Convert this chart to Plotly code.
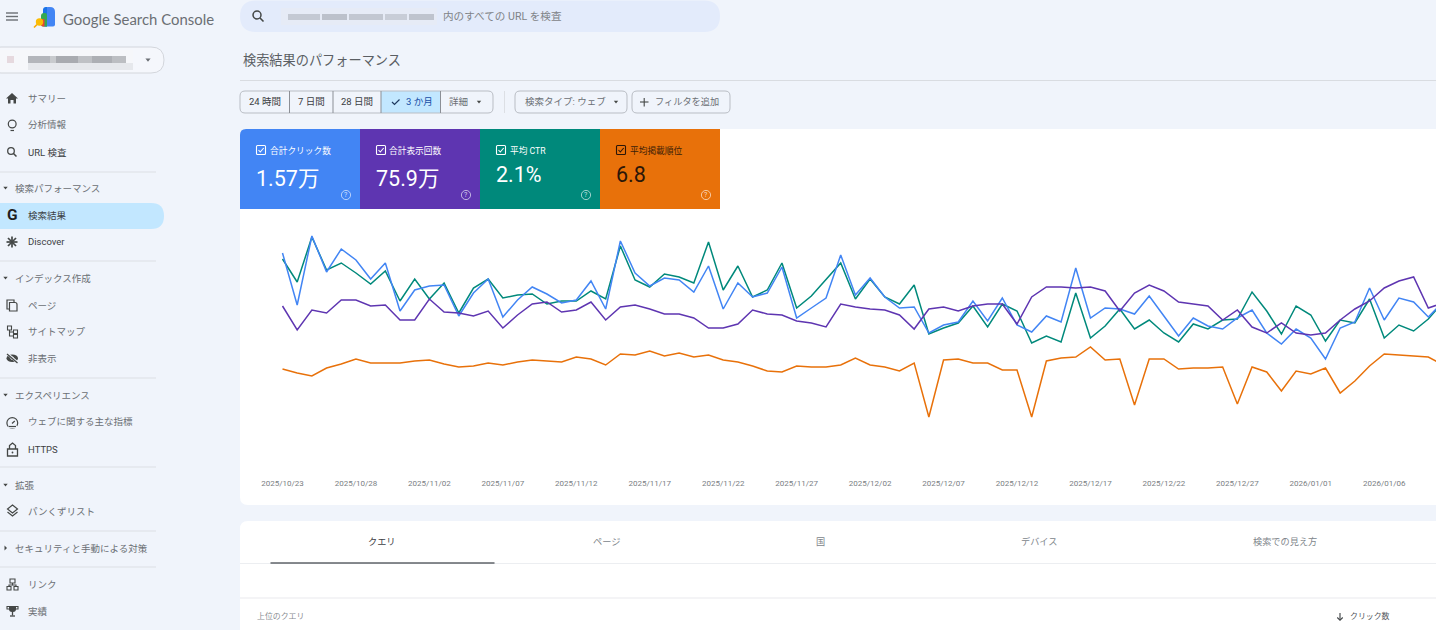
#! /usr/bin/python3
'''
Search Console performance page, drawn as one Plotly figure.
'''
import pandas as pd
import plotly.graph_objects as go

W = 1436
H = 630

# Series values: relative height of each daily point, the real axes are hidden in the page
clicks = [217, 165, 234, 198, 221, 210, 191, 207, 159, 180, 184, 185, 154, 177, 191, 153, 170, 183, 176, 167,
          170, 189, 161, 229, 197, 184, 192, 190, 178, 204, 161, 187, 173, 177, 203, 152, 162, 172, 215, 175,
          192, 173, 162, 163, 137, 145, 148, 169, 149, 172, 145, 138, 154, 148, 202, 152, 162, 161, 156, 174,
          154, 134, 152, 144, 141, 152, 160, 137, 126, 141, 132, 111, 142, 148, 182, 150, 172, 168, 153, 168]
impressions = [164, 140, 160, 157, 170, 170, 164, 165, 150, 150, 171, 158, 157, 154, 159, 142, 155, 166, 168, 158,
               160, 168, 150, 163, 165, 161, 156, 156, 152, 142, 142, 146, 160, 156, 155, 149, 147, 143, 166, 163,
               161, 160, 155, 141, 161, 163, 159, 164, 166, 166, 146, 173, 183, 183, 182, 183, 179, 159, 177, 185,
               179, 168, 166, 164, 150, 160, 143, 137, 147, 137, 135, 137, 150, 161, 169, 182, 189, 193, 162, 167]
ctr = [211, 188, 233, 200, 207, 197, 186, 199, 169, 191, 171, 187, 157, 182, 191, 172, 175, 176, 166, 169,
       169, 179, 171, 224, 190, 183, 196, 193, 187, 228, 180, 204, 173, 180, 207, 162, 174, 191, 207, 171,
       191, 173, 166, 185, 136, 142, 147, 164, 143, 166, 159, 127, 134, 128, 177, 132, 144, 161, 141, 150,
       137, 128, 146, 141, 150, 151, 178, 159, 136, 164, 155, 129, 150, 147, 171, 132, 145, 139, 151, 168]
position = [101, 97, 94, 102, 106, 111, 107, 107, 107, 109, 110, 106, 103, 104, 107, 105, 108, 110, 109, 108,
            113, 111, 105, 116, 115, 119, 114, 117, 113, 115, 110, 108, 104, 99, 98, 104, 103, 103, 105, 112,
            105, 103, 99, 107, 53, 110, 111, 107, 107, 100, 100, 53, 109, 112, 113, 123, 110, 111, 65, 111,
            111, 101, 102, 102, 103, 66, 103, 98, 79, 99, 96, 102, 77, 89, 104, 116, 115, 114, 113, 105]

dates = pd.date_range('2025-10-23', periods=80)
tick_dates = dates[:76:5]
tick_labels = [d.strftime('%Y/%m/%d') for d in tick_dates]

metric_names = ['合計クリック数', '合計表示回数', '平均 CTR', '平均掲載順位']
metric_values = ['1.57万', '75.9万', '2.1%', '6.8']
metric_colors = ['#4285f4', '#5e35b1', '#00897b', '#e8710a']
tab_names = ['クエリ', 'ページ', '国', 'デバイス', '検索での見え方']
sections = ['検索パフォーマンス', 'インデックス作成', 'エクスペリエンス', '拡張', 'セキュリティと手動による対策']
nav_items = ['サマリー', '分析情報', 'URL 検査', '検索結果', 'Discover', 'ページ', 'サイトマップ', '非表示',
             'ウェブに関する主な指標', 'HTTPS', 'パンくずリスト', 'リンク', '実績']

FONT = 'Roboto, "Noto Sans CJK JP", sans-serif'
BG = '#f0f4fb'
TEXT = '#6b6f74'
DARK = '#3c4043'
ICON = '#444746'
BORDER = '#b9bdc4'
LIGHT_LINE = '#dcdfe4'

shapes = []
notes = []


def X(x):
    return x / W


def Y(y):
    return 1 - y / H


def addPath(d, fill='rgba(0,0,0,0)', color='rgba(0,0,0,0)', width=0):
    shapes.append(dict(type='path', path=d, xref='paper', yref='paper', fillcolor=fill,
                       line=dict(color=color, width=width), layer='below'))


def rrect(x0, y0, x1, y1, r=(0, 0, 0, 0), fill='rgba(0,0,0,0)', color='rgba(0,0,0,0)', width=0):
    # r is top left, top right, bottom right, bottom left
    tl, tr, br, bl = r
    d = (f'M {X(x0 + tl)} {Y(y0)} L {X(x1 - tr)} {Y(y0)} Q {X(x1)} {Y(y0)} {X(x1)} {Y(y0 + tr)} '
         f'L {X(x1)} {Y(y1 - br)} Q {X(x1)} {Y(y1)} {X(x1 - br)} {Y(y1)} '
         f'L {X(x0 + bl)} {Y(y1)} Q {X(x0)} {Y(y1)} {X(x0)} {Y(y1 - bl)} '
         f'L {X(x0)} {Y(y0 + tl)} Q {X(x0)} {Y(y0)} {X(x0 + tl)} {Y(y0)} Z')
    addPath(d, fill, color, width)


def poly(points, fill='rgba(0,0,0,0)', color='rgba(0,0,0,0)', width=0, close=True):
    d = 'M ' + ' L '.join(f'{X(a)} {Y(b)}' for a, b in points)
    addPath(d + (' Z' if close else ''), fill, color, width)


def seg(x0, y0, x1, y1, color=ICON, width=1.3):
    poly([(x0, y0), (x1, y1)], color=color, width=width, close=False)


def circle(cx, cy, r, fill='rgba(0,0,0,0)', color='rgba(0,0,0,0)', width=0):
    shapes.append(dict(type='circle', xref='paper', yref='paper', x0=X(cx - r), x1=X(cx + r),
                       y0=Y(cy + r), y1=Y(cy - r), fillcolor=fill,
                       line=dict(color=color, width=width), layer='below'))


def label(x, y, text, size=9.5, color=TEXT, anchor='left', family=FONT):
    # left anchored annotations sit 2px right of x because of their padding
    if anchor == 'left':
        x = x - 2
    notes.append(dict(x=X(x), y=Y(y), xref='paper', yref='paper', text=text, showarrow=False,
                      xanchor=anchor, yanchor='middle', font=dict(size=size, color=color, family=family)))


def triangle(cx, cy, color=ICON, s=2.6):
    poly([(cx - s, cy - s * 0.6), (cx + s, cy - s * 0.6), (cx, cy + s * 0.7)], fill=color)


# Page background and cards
rrect(0, 0, W, H, fill=BG)
rrect(240, 129, W + 10, 505, (8, 8, 8, 8), fill='#ffffff')
rrect(240, 521, W + 10, H + 10, (8, 8, 0, 0), fill='#ffffff')

# Top bar
for yy in (13, 16.5, 20):
    seg(6, yy, 18, yy, color=TEXT, width=1.4)
rrect(43, 7, 55, 26.5, (5, 5, 2, 2), fill='#4285f4')
rrect(43, 7, 47, 26.5, (3, 0, 0, 2), fill='#1a73e8')
rrect(41, 13, 47, 26.5, (3, 2, 0, 2), fill='#34a853')
rrect(41, 19, 44.5, 26.5, (2, 0, 0, 2), fill='#ea4335')
circle(39.5, 22, 3.7, fill='#fbbc04')
seg(37, 24.5, 34, 27.5, color='#f9ab00', width=1.6)
label(63, 19, 'Google Search Console', 14.9, TEXT, family='Lato, Roboto, sans-serif')

# Search bar
rrect(240, 0.5, 720, 32, (16, 16, 16, 16), fill='#e3ebfb')
circle(257, 15, 4, color=ICON, width=1.5)
seg(260, 18, 263.5, 21.5, width=1.6)
rrect(281, 8, 437, 25, fill='#e6ebf6')
for bx, bw, shade in [(288, 32, '#c4c9d3'), (322, 25, '#bcc1cb'), (349, 34, '#c2c7d1'), (385, 22, '#c8cdd7'), (409, 25, '#bfc4ce')]:
    rrect(bx, 14, bx + bw, 20, fill=shade)
label(443, 16, '内のすべての URL を検査', 10.6, '#7f8388')

# Property selector
rrect(-12, 47, 164, 73, (13, 13, 13, 13), fill='#f5f7fc', color='#d3d6dc', width=1)
rrect(0, 50, 133, 70, fill='#f6f7fa')
rrect(7, 56, 14, 63, fill='#e6d9de')
for bx, bw, shade in [(28, 22, '#b4b6bb'), (50, 6, '#c8cacd'), (56, 22, '#a9abb0'), (78, 14, '#bfc1c5'),
                      (92, 20, '#adafb4'), (112, 14, '#bcbec2')]:
    rrect(bx, 56, bx + bw, 63, fill=shade)
rrect(28, 63, 133, 70, fill='#e6e8ec')
triangle(148, 60, TEXT)

# Sidebar
rrect(-12, 203, 164, 229, (13, 13, 13, 13), fill='#c2e7ff')
for yy in (172, 261, 378, 467, 531, 567):
    seg(0, yy, 156, yy, color=LIGHT_LINE, width=1)
nav_y = [98.5, 125, 152, 215, 242, 305, 331, 358, 422, 449, 511, 584, 611]
for name, yy in zip(nav_items, nav_y):
    label(28, yy, name, 9.5, DARK if name in ('検索結果', 'Discover', 'HTTPS', 'URL 検査') else TEXT)
section_y = [188, 278, 395, 485, 548]
for name, yy in zip(sections, section_y):
    label(15, yy, name, 9.5, TEXT)
    if name.startswith('セキュリティ'):
        poly([(4.5, yy - 2.5), (7, yy), (4.5, yy + 2.5)], fill=ICON)
    else:
        triangle(5.5, yy, ICON, 2.2)

# Sidebar icons
poly([(12, 93), (18, 98.5), (16, 98.5), (16, 103.5), (13.5, 103.5), (13.5, 100), (10.5, 100), (10.5, 103.5),
      (8, 103.5), (8, 98.5), (6, 98.5)], fill=ICON)
circle(12.2, 124, 3.9, color=ICON, width=1.2)
seg(10.5, 130.5, 14, 130.5, width=1.2)
circle(11, 151, 3.3, color=ICON, width=1.3)
seg(13.5, 153.5, 16.5, 156.5, width=1.5)
label(12, 215, '<b>G</b>', 15.5, '#1f1f1f', 'center')
for a, b, c, d in [(12, 236.5, 12, 247.5), (6.5, 242, 17.5, 242), (8, 238, 16, 246), (16, 238, 8, 246)]:
    seg(a, b, c, d, width=1.7)
rrect(7, 300, 14, 309, color=ICON, width=1.2)
rrect(9.5, 302.5, 17, 311, (0, 2, 0, 0), fill=BG, color=ICON, width=1.2)
rrect(7.5, 326, 11.5, 330, color=ICON, width=1.1)
rrect(13.5, 330, 17.5, 333.5, color=ICON, width=1.1)
rrect(13.5, 334.5, 17.5, 338, color=ICON, width=1.1)
poly([(9.5, 330), (9.5, 336), (13.5, 336)], color=ICON, width=1.1, close=False)
seg(9.5, 332, 13.5, 332, width=1.1)
shapes.append(dict(type='circle', xref='paper', yref='paper', x0=X(6.5), x1=X(18), y0=Y(362), y1=Y(354.5),
                   fillcolor=ICON, line=dict(width=0), layer='below'))
circle(12.2, 358.2, 1.6, fill=BG)
seg(7, 353.5, 17.5, 362.5, color=BG, width=2.4)
seg(7, 354, 17.5, 363, width=1.3)
circle(12.3, 423, 5.4, color=ICON, width=1.2)
rrect(8, 425.5, 17, 428.5, fill=BG)
seg(8.5, 426.5, 16, 426.5, width=1.2)
seg(12, 423.5, 14.8, 421, width=1.2)
rrect(7.5, 449, 17.5, 456, color=ICON, width=1.3)
poly([(9.5, 449), (9.5, 445.5), (12.5, 443), (15.5, 445.5), (15.5, 449)], color=ICON, width=1.3, close=False)
circle(12.5, 452.5, 0.9, fill=ICON)
poly([(12.5, 505), (17.5, 509), (12.5, 513), (7.5, 509)], color=ICON, width=1.2)
poly([(7.5, 512), (12.5, 516), (17.5, 512)], color=ICON, width=1.2, close=False)
rrect(10, 579, 15, 583, color=ICON, width=1.1)
rrect(7, 586.5, 11, 590, color=ICON, width=1.1)
rrect(14, 586.5, 18, 590, color=ICON, width=1.1)
poly([(12.5, 583), (12.5, 585), (9, 585), (9, 586.5)], color=ICON, width=1.1, close=False)
poly([(12.5, 585), (16, 585), (16, 586.5)], color=ICON, width=1.1, close=False)
rrect(9, 606, 16, 612, (0, 0, 3, 3), fill=ICON)
rrect(7, 606.5, 18, 609, color=ICON, width=1.1)
seg(12.5, 612, 12.5, 615.5, width=1.3)
seg(10, 616, 15, 616, width=1.3)

# Page title
label(243, 60, '検索結果のパフォーマンス', 13.2, '#5a5e63')
seg(240, 80.5, W, 80.5, color='#d9dce1', width=1)

# Date range chips
rrect(381, 91, 440, 113, fill='#c2e7ff')
rrect(240, 91, 493, 113, (5, 5, 5, 5), color=BORDER, width=1)
for xx in (289.5, 333, 381, 440.5):
    seg(xx, 91, xx, 113, color='#8b8f96', width=1)
label(265, 102, '24 時間', 9.5, DARK, 'center')
label(311, 102, '7 日間', 9.5, DARK, 'center')
label(357, 102, '28 日間', 9.5, DARK, 'center')
poly([(392, 102), (394.5, 104.5), (399.5, 99.5)], color='#1f3a5f', width=1.2, close=False)
label(419.5, 102, '3 か月', 9.5, '#174ea6', 'center')
label(458, 102, '詳細', 9.5, TEXT, 'center')
triangle(479, 102, ICON, 2.2)
seg(504.5, 91, 504.5, 113, color=LIGHT_LINE, width=1)
rrect(515, 91, 627, 113, (5, 5, 5, 5), color=BORDER, width=1)
label(565, 102, '検索タイプ: ウェブ', 9.5, TEXT, 'center')
triangle(616, 102, ICON, 2.2)
rrect(632, 91, 730, 113, (5, 5, 5, 5), color=BORDER, width=1)
seg(640, 102, 648.5, 102, width=1.1)
seg(644.2, 98, 644.2, 106.5, width=1.1)
label(687, 102, 'フィルタを追加', 9.2, TEXT, 'center')

# Metric cards
for i in range(4):
    x0 = 240 + 120 * i
    ink = '#2b1608' if i == 3 else '#ffffff'
    corner = (6, 0, 0, 0) if i == 0 else (0, 0, 0, 0)
    rrect(x0, 129, x0 + 120, 209, corner, fill=metric_colors[i])
    rrect(x0 + 16.5, 145.5, x0 + 25.5, 154.5, (1, 1, 1, 1), color=ink, width=1.1)
    poly([(x0 + 18.5, 150), (x0 + 20.3, 152), (x0 + 23.7, 148)], color=ink, width=1.1, close=False)
    label(x0 + 29.5, 150, metric_names[i], 8.7, ink if i != 3 else '#3a1d08')
    label(x0 + 16, 178 if i < 2 else 174, metric_values[i], 21.5, ink)
    circle(x0 + 106, 195, 4.6, color='rgba(255,255,255,0.6)', width=1)
    label(x0 + 106, 195, '?', 7, 'rgba(255,255,255,0.75)', 'center')

# Lower table card
tab_x = [382, 606, 820, 1039, 1285]
for name, xx, in zip(tab_names, tab_x):
    label(xx, 541, name, 9.2, DARK if name == 'クエリ' else '#80868b', 'center')
seg(240, 563.5, W, 563.5, color='#eceef1', width=1)
seg(270.5, 563, 494.5, 563, color='#5f6368', width=1.5)
seg(240, 598, W, 598, color='#f0f1f3', width=1.3)
label(256.5, 616, '上位のクエリ', 7.9, '#8a8e93')
seg(1340, 613, 1340, 620, color=DARK, width=1.1)
poly([(1337.3, 617.5), (1340, 620.3), (1342.7, 617.5)], color=DARK, width=1.1, close=False)
label(1349.5, 616, 'クリック数', 7.9, '#53575c')

fig = go.Figure()
# Same stacking as the page: position at the bottom, clicks near the top
fig.add_trace(go.Scatter(x=dates, y=position, mode='lines', line=dict(color=metric_colors[3], width=1.5)))
fig.add_trace(go.Scatter(x=dates, y=ctr, mode='lines', line=dict(color=metric_colors[2], width=1.5)))
fig.add_trace(go.Scatter(x=dates, y=clicks, mode='lines', line=dict(color=metric_colors[0], width=1.5)))
fig.add_trace(go.Scatter(x=dates, y=impressions, mode='lines', line=dict(color=metric_colors[1], width=1.5)))

day_px = 14.69
x_start = dates[0] - pd.Timedelta(days=(282.5 - 240) / day_px)
x_end = dates[0] + pd.Timedelta(days=(W - 282.5) / day_px)

fig.update_xaxes(domain=[240 / W, 1], range=[x_start, x_end], tickmode='array', tickvals=tick_dates,
                 ticktext=tick_labels, showgrid=False, zeroline=False, showline=False, ticks='',
                 tickfont=dict(size=8, color='#7a7e83', family=FONT), ticklabelstandoff=7)
fig.update_yaxes(domain=[Y(470), Y(209)], range=[0, 261], visible=False)
fig.update_layout(width=W, height=H, margin=dict(l=0, r=0, t=0, b=0), showlegend=False,
                  paper_bgcolor=BG, plot_bgcolor='rgba(0,0,0,0)', shapes=shapes, annotations=notes,
                  hovermode=False)
fig.write_html('out.html', config=dict(displayModeBar=False),
               post_script="document.body.style.margin='0';")
